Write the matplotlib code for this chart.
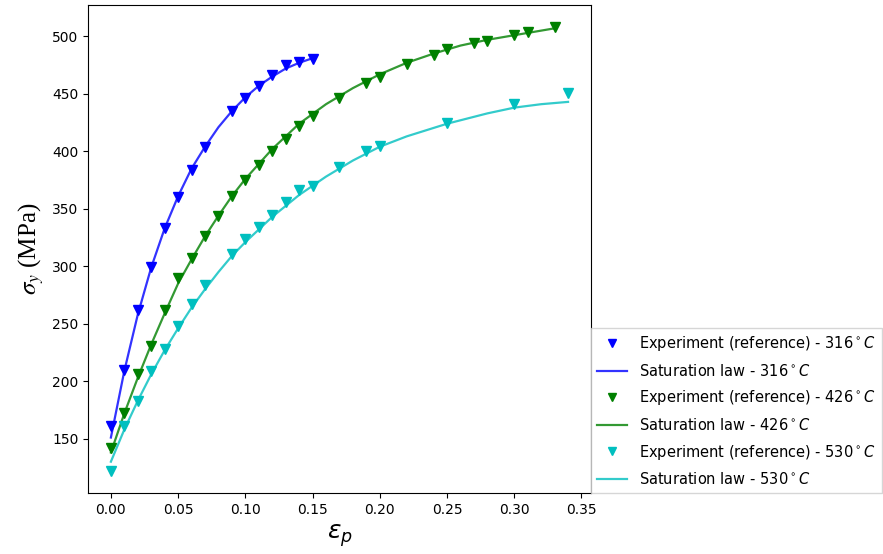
import matplotlib
matplotlib.use("Agg")
import matplotlib.pyplot as plt

eps_316 = [0.0, 0.01, 0.02, 0.03, 0.04, 0.05, 0.06, 0.07, 0.09, 0.10, 0.11, 0.12, 0.13, 0.14, 0.15]
sig_316 = [161, 210, 262, 299, 333, 360, 384, 404, 435, 446, 457, 466, 475, 478, 480]

eps_426 = [0.0, 0.01, 0.02, 0.03, 0.04, 0.05, 0.06, 0.07, 0.08, 0.09, 0.10, 0.11, 0.12, 0.13,
           0.14, 0.15, 0.17, 0.19, 0.20, 0.22, 0.24, 0.25, 0.27, 0.28, 0.30, 0.31, 0.33]
sig_426 = [142, 172, 206, 231, 262, 290, 307, 326, 344, 361, 375, 388, 400, 411,
           422, 431, 446, 459, 465, 476, 484, 489, 494, 496, 501, 504, 508]

eps_530 = [0.0, 0.01, 0.02, 0.03, 0.04, 0.05, 0.06, 0.07, 0.09, 0.10, 0.11, 0.12, 0.13, 0.14,
           0.15, 0.17, 0.19, 0.20, 0.25, 0.30, 0.34]
sig_530 = [122, 161, 183, 209, 228, 248, 267, 284, 311, 324, 334, 345, 356, 366,
           370, 386, 400, 405, 425, 441, 451]

# saturation law curves
fit_eps_316 = [0.0, 0.01, 0.02, 0.03, 0.04, 0.05, 0.06, 0.07, 0.08, 0.09, 0.10, 0.11, 0.12, 0.13, 0.14, 0.15]
fit_sig_316 = [151, 209, 258, 299, 333, 361, 385, 404, 421, 435, 447, 457, 465, 472, 477, 481]

fit_eps_426 = [0.0, 0.01, 0.02, 0.03, 0.04, 0.05, 0.06, 0.07, 0.08, 0.09, 0.10, 0.12, 0.14,
               0.16, 0.18, 0.20, 0.22, 0.24, 0.26, 0.28, 0.30, 0.33]
fit_sig_426 = [138, 172, 203, 232, 259, 285, 306, 326, 344, 361, 376, 402, 424,
               441, 455, 467, 477, 485, 492, 497, 501, 507]

fit_eps_530 = [0.0, 0.01, 0.02, 0.03, 0.04, 0.05, 0.06, 0.07, 0.08, 0.09, 0.10, 0.12, 0.14,
               0.16, 0.18, 0.20, 0.22, 0.25, 0.28, 0.30, 0.32, 0.34]
fit_sig_530 = [130, 158, 183, 206, 227, 246, 264, 280, 295, 309, 321, 343, 362,
               378, 392, 404, 413, 424, 433, 438, 441, 443]

fig = plt.figure(figsize=(8.83, 5.54), dpi=100)
ax = fig.add_axes([0.0997, 0.110, 0.5695, 0.881])

series = [
    ("316", "b", eps_316, sig_316, fit_eps_316, fit_sig_316),
    ("426", "g", eps_426, sig_426, fit_eps_426, fit_sig_426),
    ("530", "c", eps_530, sig_530, fit_eps_530, fit_sig_530),
]
for temp, col, ex, ey, fx, fy in series:
    ax.plot(ex, ey, "v", color=col, markersize=7,
            label=r"Experiment (reference) - " + temp + r"$^\circ C$")
    ax.plot(fx, fy, "-", color=col, lw=1.6, alpha=0.8,
            label=r"Saturation law - " + temp + r"$^\circ C$")

ax.set_xticks([0.0, 0.05, 0.10, 0.15, 0.20, 0.25, 0.30, 0.35])
ax.set_yticks([150, 200, 250, 300, 350, 400, 450, 500])
ax.set_xlabel(r"$\varepsilon_p$", fontsize=18)
ax.set_ylabel(r"$\sigma_y$ (MPa)", fontsize=18, family="Liberation Serif",
              math_fontfamily="stix")

ax.legend(loc="lower left", bbox_to_anchor=(1.0, 0.0), borderaxespad=0.0,
          numpoints=1, fancybox=False, fontsize=10.5, labelspacing=0.66,
          handlelength=2.1, markerscale=0.85)

fig.savefig("out.png", dpi=100)
